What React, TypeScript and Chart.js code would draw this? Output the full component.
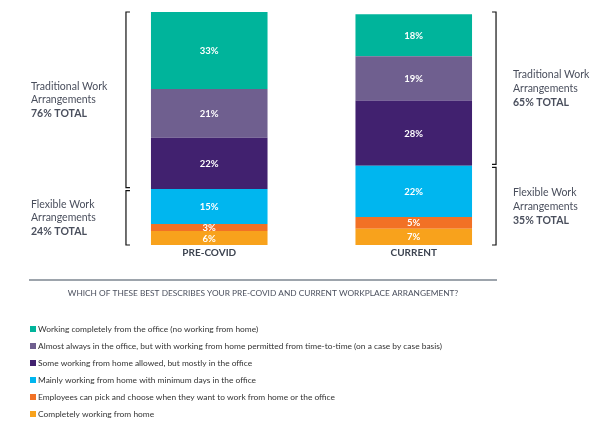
import React, { useEffect, useRef } from "react";
import { Chart, registerables } from "chart.js";

Chart.register(...registerables);

const categories = ["PRE-COVID", "CURRENT"];

// Stack order: bottom to top
const seriesLabels = [
  "Completely working from home",
  "Employees can pick and choose when they want to work from home or the office",
  "Mainly working from home with minimum days in the office",
  "Some working from home allowed, but mostly in the office",
  "Almost always in the office, but with working from home permitted from time-to-time (on a case by case basis)",
  "Working completely from the office (no working from home)",
];
const seriesColors = ["#f8a21c", "#f27125", "#00b6ef", "#41216f", "#6f5f8f", "#00b49b"];

const completelyHome = [6, 7];
const pickAndChoose = [3, 5];
const mainlyHome = [15, 22];
const someHome = [22, 28];
const almostOffice = [21, 19];
const completelyOffice = [33, 18];
const seriesValues = [completelyHome, pickAndChoose, mainlyHome, someHome, almostOffice, completelyOffice];

const traditionalTotals = [76, 65];
const flexibleTotals = [24, 35];
const groupLines = ["Traditional Work", "Arrangements"];
const flexLines = ["Flexible Work", "Arrangements"];
const questionTitle = "WHICH OF THESE BEST DESCRIBES YOUR PRE-COVID AND CURRENT WORKPLACE ARRANGEMENT?";

const FONT = "Lato, 'Open Sans', sans-serif";
const TEXT = "#4a4f5d";

const overlay = {
  id: "overlay",
  afterDatasetsDraw(chart: any) {
    const ctx = chart.ctx;
    const x = chart.scales.x;
    const y = chart.scales.y;
    ctx.save();
    // segment labels
    chart.data.datasets.forEach((ds: any, di: number) => {
      const meta = chart.getDatasetMeta(di);
      meta.data.forEach((bar: any, i: number) => {
        const v = ds.data[i];
        const cy = (bar.y + bar.base) / 2;
        ctx.fillStyle = "#ffffff";
        ctx.font = `bold 9.5px ${FONT}`;
        ctx.textAlign = "center";
        ctx.textBaseline = "middle";
        ctx.fillText(v + "%", bar.x, cy + 0.5);
      });
    });
    // category labels
    categories.forEach((c, i) => {
      ctx.fillStyle = "#3d4451";
      ctx.font = `bold 10px ${FONT}`;
      ctx.textAlign = "center";
      ctx.textBaseline = "middle";
      ctx.fillText(c, x.getPixelForValue(i), 253);
    });
    // brackets and annotations
    const n = chart.data.datasets.length;
    categories.forEach((_, i) => {
      const sumAll = chart.data.datasets.reduce((s: number, d: any) => s + d.data[i], 0);
      const sumFlex = chart.data.datasets.slice(0, 3).reduce((s: number, d: any) => s + d.data[i], 0);
      const yTop = y.getPixelForValue(Math.max(sumAll, 100));
      const yMid = y.getPixelForValue(sumFlex);
      const yBot = y.getPixelForValue(0);
      const bar = chart.getDatasetMeta(0).data[i];
      const left = i === 0;
      const bx = left ? bar.x - bar.width / 2 - 25 : bar.x + bar.width / 2 + 24;
      const tick = left ? 4 : -4;
      ctx.strokeStyle = "#111111";
      ctx.lineWidth = 1.2;
      const segs = [
        [yTop, yMid - 1.5],
        [yMid + 1.5, yBot],
      ];
      segs.forEach(([a, b]) => {
        ctx.beginPath();
        ctx.moveTo(bx + tick, a);
        ctx.lineTo(bx, a);
        ctx.lineTo(bx, b);
        ctx.lineTo(bx + tick, b);
        ctx.stroke();
      });
      const tx = left ? 31 : 513;
      const blocks = [
        { lines: groupLines, total: traditionalTotals[i], c: (segs[0][0] + segs[0][1]) / 2 },
        { lines: flexLines, total: flexibleTotals[i], c: (segs[1][0] + segs[1][1]) / 2 },
      ];
      blocks.forEach((b) => {
        ctx.textAlign = "left";
        ctx.textBaseline = "middle";
        ctx.fillStyle = TEXT;
        ctx.font = `10.5px ${FONT}`;
        ctx.fillText(b.lines[0], tx, b.c - 13.5);
        ctx.fillText(b.lines[1], tx, b.c);
        ctx.font = `bold 10.5px ${FONT}`;
        ctx.fillText(b.total + "% TOTAL", tx, b.c + 14);
      });
    });
    // rule
    ctx.strokeStyle = "#3c4a5a";
    ctx.lineWidth = 1.2;
    ctx.beginPath();
    ctx.moveTo(29, 280);
    ctx.lineTo(497, 280);
    ctx.stroke();
    // question title
    ctx.fillStyle = TEXT;
    ctx.font = `8.3px ${FONT}`;
    ctx.textAlign = "center";
    ctx.textBaseline = "middle";
    ctx.fillText(questionTitle, 263, 293);
    // legend (top of stack first)
    for (let k = 0; k < n; k++) {
      const ds = chart.data.datasets[n - 1 - k];
      const ly = 329 + 17 * k;
      ctx.fillStyle = ds.backgroundColor;
      ctx.fillRect(30, ly - 3, 6, 6);
      ctx.fillStyle = "#333333";
      ctx.font = `8.4px ${FONT}`;
      ctx.textAlign = "left";
      ctx.textBaseline = "middle";
      ctx.fillText(ds.label, 38, ly);
    }
    ctx.restore();
  },
};

export default function App() {
  const ref = useRef<HTMLCanvasElement>(null);
  useEffect(() => {
    const chart = new Chart(ref.current as HTMLCanvasElement, {
      type: "bar",
      data: {
        labels: categories,
        datasets: seriesValues.map((vals, i) => ({
          label: seriesLabels[i],
          data: vals,
          backgroundColor: seriesColors[i],
          borderWidth: 0,
          barPercentage: 0.57,
          categoryPercentage: 1,
        })),
      },
      options: {
        responsive: false,
        animation: false,
        layout: { padding: { top: 12, left: 107, right: 95, bottom: 181 } },
        plugins: { legend: { display: false }, tooltip: { enabled: false }, title: { display: false } },
        scales: {
          x: { stacked: true, display: false },
          y: { stacked: true, display: false, min: 0, max: 100 },
        },
      },
      plugins: [overlay],
    });
    return () => chart.destroy();
  }, []);
  return (
    <div style={{ position: "absolute", left: 0, top: 0, width: 611, height: 426, background: "#fff" }}>
      <canvas ref={ref} width={611} height={426} style={{ width: 611, height: 426 }} />
    </div>
  );
}
